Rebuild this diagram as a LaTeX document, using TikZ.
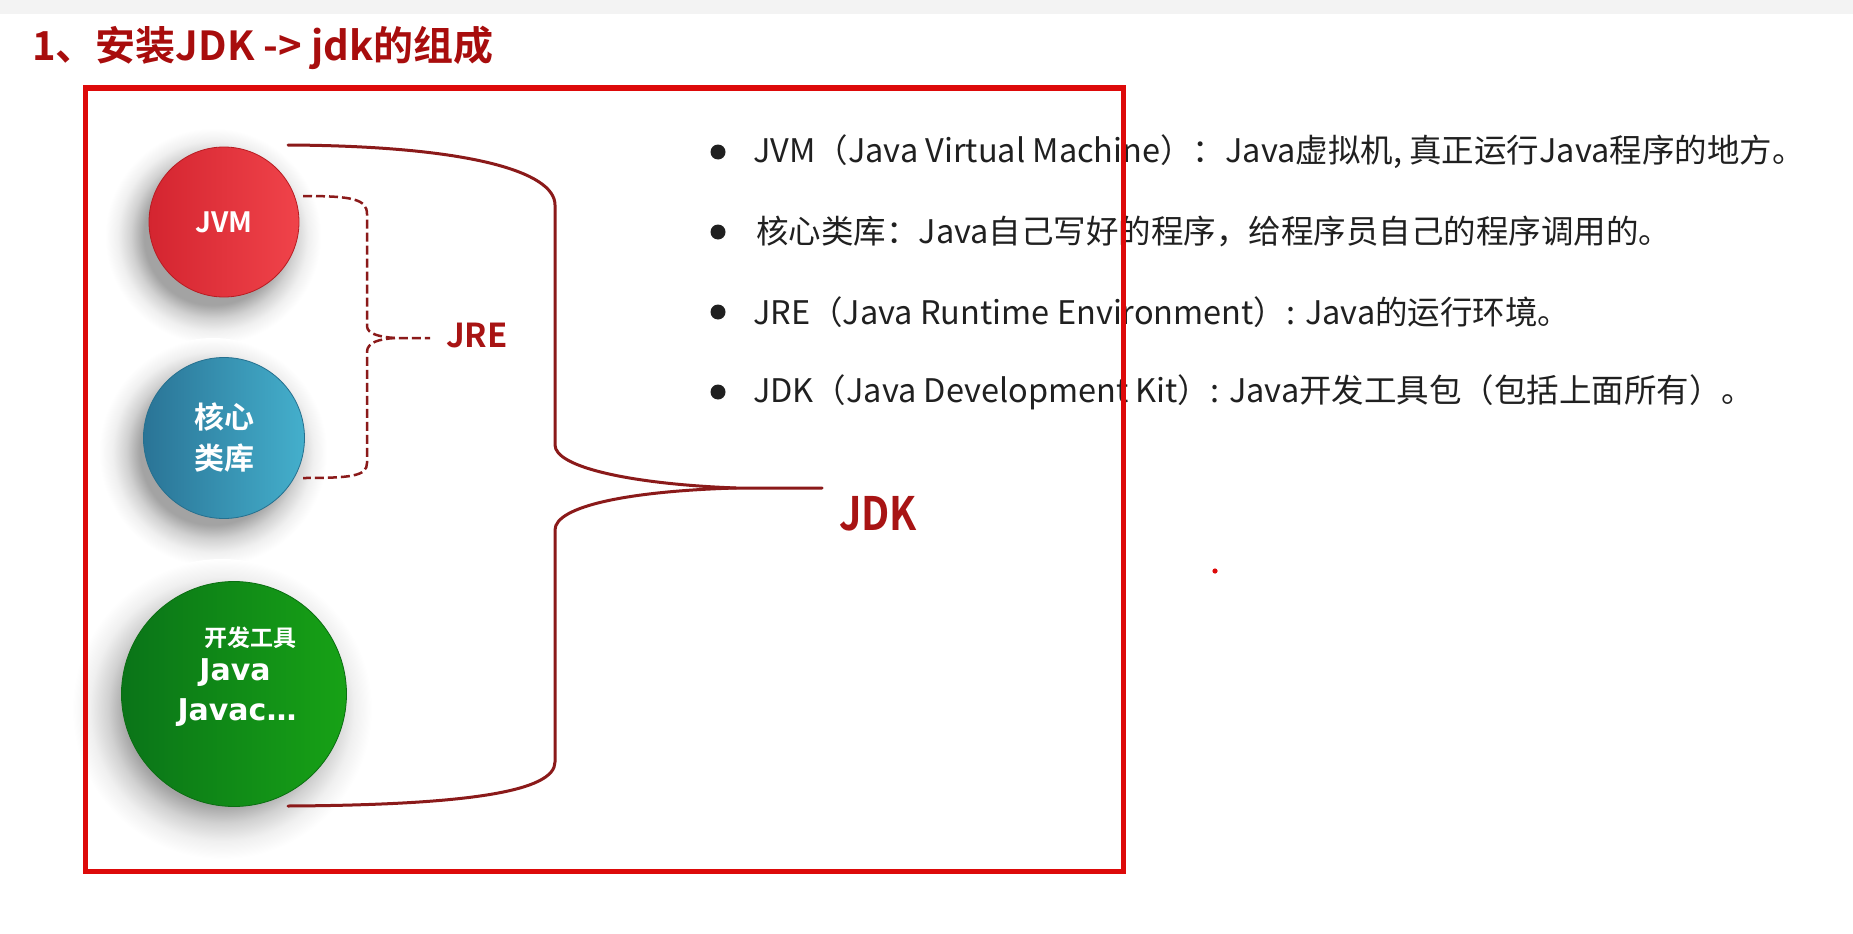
\documentclass[tikz,border=0pt]{standalone}
\usepackage{fontspec}
\setmainfont{Noto Sans CJK SC}[BoldFont=Noto Sans CJK SC Bold]
\newfontfamily\dejabold{DejaVu Sans Bold}

\definecolor{titlered}{HTML}{A80D0D}
\definecolor{boxred}{HTML}{DD0A0A}
\definecolor{bracered}{HTML}{8B1A1A}
\definecolor{labelred}{HTML}{A81414}
\definecolor{bodytext}{HTML}{202020}
\definecolor{topband}{HTML}{F3F3F3}
\definecolor{jvmL}{HTML}{D42530}
\definecolor{jvmR}{HTML}{F0434A}
\definecolor{jvmRim}{HTML}{B81C22}
\definecolor{coreL}{HTML}{2A7496}
\definecolor{coreR}{HTML}{44AFCC}
\definecolor{coreRim}{HTML}{25708F}
\definecolor{toolL}{HTML}{0A7418}
\definecolor{toolR}{HTML}{17A216}
\definecolor{toolRim}{HTML}{0B6E12}

% soft drop shadow under the balls (the path's rim sits at 25bp)
\pgfdeclareradialshading{ballshadow}{\pgfpoint{0bp}{0bp}}{%
  color(0bp)=(black!36); color(16bp)=(black!36); color(19bp)=(black!18);
  color(22bp)=(black!6); color(25bp)=(white); color(50bp)=(white)}

\tikzset{
  ball/.style={circle, inner sep=0pt, text=white, align=center},
  bracket/.style={draw=bracered, line width=3pt, line cap=round},
  jrebracket/.style={draw=bracered, line width=2.5pt, dash pattern=on 9pt off 4pt},
  listline/.style={anchor=west, text=bodytext, inner sep=0pt,
    font=\fontsize{32.5}{38}\selectfont},
  bulletdot/.style={circle, fill=bodytext, inner sep=0pt, minimum size=15pt},
  grouplabel/.style={text=labelred, inner sep=0pt}
}

\begin{document}
\begin{tikzpicture}[x=1pt, y=-1pt]
  % page
  \useasboundingbox (0,0) rectangle (1853,934);
  \fill[white] (0,0) rectangle (1853,934);
  \fill[topband] (0,0) rectangle (1853,14);

  % heading
  \node[anchor=west, text=titlered, inner sep=0pt,
        font=\bfseries\fontsize{40}{44}\selectfont] (title) at (32,48)
        {1、安装JDK -> jdk的组成};

  % shadows of the balls
  \shade[shading=ballshadow] (213,236) circle (108);
  \shade[shading=ballshadow] (213,452) circle (114);
  \shade[shading=ballshadow] (222,709) circle (150);

  % component balls
  \node[ball, font=\bfseries\fontsize{28}{32}\selectfont, minimum size=150pt,
        draw=jvmRim, line width=0.8pt,
        left color=jvmL, right color=jvmR] (jvm) at (224,222) {JVM};
  \node[ball, font=\bfseries\fontsize{30}{41}\selectfont, minimum size=161pt,
        draw=coreRim, line width=0.8pt,
        left color=coreL, right color=coreR] (core) at (224,438) {核心\\类库};
  \node[ball, minimum size=225pt, draw=toolRim, line width=0.8pt,
        left color=toolL, right color=toolR] (tools) at (234,694) {};
  \node[text=white, inner sep=0pt, font=\bfseries\fontsize{23}{26}\selectfont]
        (toolsA) at (250,638) {开发工具};
  \node[text=white, inner sep=0pt, font=\dejabold\fontsize{30}{34}\selectfont]
        (toolsB) at (235,673) {Java};
  \node[text=white, inner sep=0pt, font=\dejabold\fontsize{30}{34}\selectfont]
        (toolsC) at (237,713) {Javac…};

  % group labels
  \node[grouplabel, font=\bfseries\fontsize{33}{36}\selectfont] (jre) at (477,336) {JRE};
  \node[grouplabel, font=\bfseries\fontsize{46}{50}\selectfont] (jdk) at (878,514)
        {\scalebox{0.86}[1]{JDK}};

  % bracket ends
  \coordinate (jdkTop) at (288,145);
  \coordinate (jdkBot) at (288,806);
  \coordinate (jdkMid) at (736,488);
  \coordinate (jdkTip) at (822,488);
  \coordinate (jreTop) at (303,196);
  \coordinate (jreBot) at (303,478);
  \coordinate (jreMid) at (395,338);
  \coordinate (jreTip) at (430,338);

  % JDK bracket
  \draw[bracket] (jdkTop) .. controls (470,146) and (555,172) .. (555,205)
        -- (555,445) .. controls (555,467) and (630,484) .. (jdkMid) -- (jdkTip);
  \draw[bracket] (jdkMid) .. controls (630,491) and (555,506) .. (555,530)
        -- (555,762) .. controls (555,791) and (470,805) .. (jdkBot);

  % JRE bracket
  \draw[jrebracket] (jreTop) .. controls (352,196) and (367,199) .. (367,214)
        -- (367,326) .. controls (367,334) and (380,337) .. (jreMid) -- (jreTip);
  \draw[jrebracket] (jreMid) .. controls (380,339) and (367,342) .. (367,352)
        -- (367,463) .. controls (367,476) and (352,478) .. (jreBot);

  % definitions
  \node[bulletdot] (b1) at (718,152) {};
  \node[bulletdot] (b2) at (718,232) {};
  \node[bulletdot] (b3) at (718,312) {};
  \node[bulletdot] (b4) at (718,392) {};
  \node[listline] (l1) at (753,152) {JVM（Java Virtual Machine）：Java虚拟机, 真正运行Java程序的地方。};
  \node[listline] (l2) at (756,232) {核心类库：Java自己写好的程序，给程序员自己的程序调用的。};
  \node[listline] (l3) at (753,312) {JRE（Java Runtime Environment）: Java的运行环境。};
  \node[listline] (l4) at (753,392) {JDK（Java Development Kit）: Java开发工具包（包括上面所有）。};

  \fill[boxred] (1215,571) circle (2.6);

  % frame
  \draw[boxred, line width=5pt] (85,88) rectangle (1123,871);
\end{tikzpicture}
\end{document}
